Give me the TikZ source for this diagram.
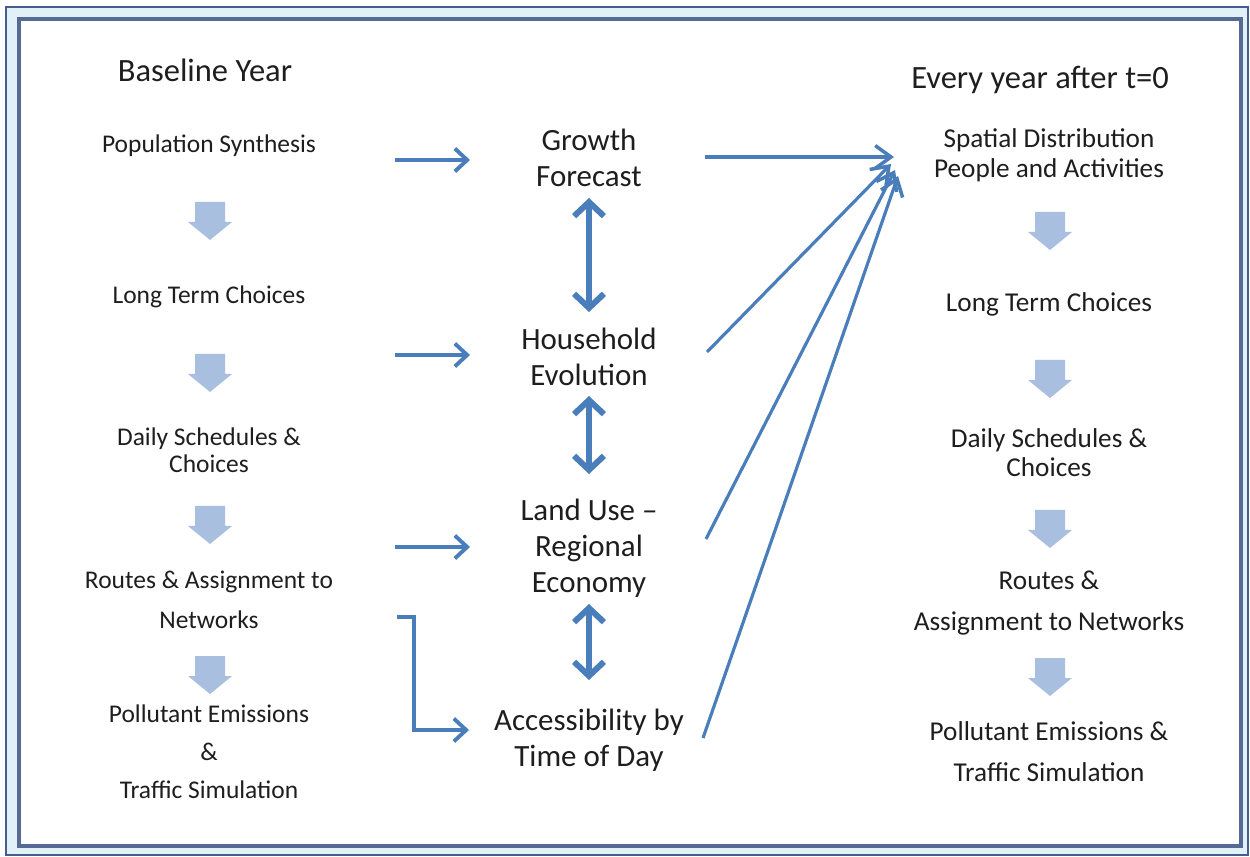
\documentclass[tikz,border=0pt]{standalone}
\usepackage{fontspec}
\setmainfont{Carlito}
\usetikzlibrary{arrows.meta}
\definecolor{lineblue}{HTML}{4A7EBB}
\definecolor{blockblue}{HTML}{A9BFE0}
\definecolor{frameout}{HTML}{465E8E}
\definecolor{framein}{HTML}{566A96}
\definecolor{band}{HTML}{E2F1F7}
\definecolor{txt}{HTML}{1E1E1E}
\tikzset{
  small/.style={align=center,text=txt,inner sep=0pt,font=\fontsize{14.5}{15.3}\selectfont},
  big/.style={align=center,text=txt,inner sep=0pt,font=\fontsize{17.6}{20.4}\selectfont},
  head/.style={align=center,text=txt,inner sep=0pt,font=\fontsize{18.5}{20.4}\selectfont},
  rsmall/.style={align=center,text=txt,inner sep=0pt},
  harrow/.style={draw=lineblue,line width=2.2pt,-{Straight Barb[length=7pt,width=13pt,line width=2.2pt]}},
  darrow/.style={draw=lineblue,line width=3.4pt,{Straight Barb[length=8pt,width=17pt,line width=3.4pt]}-{Straight Barb[length=8pt,width=17pt,line width=3.4pt]}},
  farrow/.style={draw=lineblue,line width=1.8pt,-{Straight Barb[length=9pt,width=13pt,line width=2pt]}},
  blockarrow/.pic={\fill[blockblue] (-15,0) -- (15,0) -- (15,20) -- (22,20) -- (0,38) -- (-22,20) -- (-15,20) -- cycle;}
}
\begin{document}
\begin{tikzpicture}[x=0.02cm,y=-0.02cm]
\useasboundingbox (0,0) rectangle (1250,857);
% frame
\fill[band] (5,6) rectangle (1249,856);
\draw[frameout,line width=1.5pt] (6,7) rectangle (1248,855);
\draw[framein,line width=1.9pt,fill=white] (19,19) rectangle (1241,846);

% left column
\node[head] (base) at (205,70) {Baseline Year};
\node[small] (ps) at (209,146) {Population Synthesis};
\node[small] (ltc) at (209,297) {Long Term Choices};
\node[small] (dsc) at (209,450) {Daily Schedules \&\\Choices};
\node[small,font=\fontsize{14.5}{22.7}\selectfont] (ran) at (209,600) {Routes \& Assignment to\\Networks};
\node[small,font=\fontsize{14.5}{21.6}\selectfont] (pe) at (209,752) {Pollutant Emissions\\\&\\Traffic Simulation};
\pic at (210,202) {blockarrow};
\pic at (210,354) {blockarrow};
\pic at (210,506) {blockarrow};
\pic at (210,656) {blockarrow};

% middle column
\node[big] (gf) at (589,158) {Growth\\Forecast};
\node[big] (he) at (589,357) {Household\\Evolution};
\node[big] (lu) at (589,548) {Land Use --\\Regional\\Economy};
\node[big] (acc) at (589,740) {Accessibility by\\Time of Day};

% right column
\node[head] (every) at (1040,80) {Every year after t=0};
\node[rsmall,font=\fontsize{15.5}{17}\selectfont] (sd) at (1049,155) {Spatial Distribution\\People and Activities};
\node[rsmall,font=\fontsize{15.5}{16.5}\selectfont] (rltc) at (1049,304) {Long Term Choices};
\node[rsmall,font=\fontsize{15.5}{16.5}\selectfont] (rdsc) at (1049,453) {Daily Schedules \&\\Choices};
\node[rsmall,font=\fontsize{15.5}{23.2}\selectfont] (rran) at (1049,603) {Routes \&\\Assignment to Networks};
\node[rsmall,font=\fontsize{15.5}{23.2}\selectfont] (rpe) at (1049,752) {Pollutant Emissions \&\\Traffic Simulation};
\pic at (1050,212) {blockarrow};
\pic at (1050,360) {blockarrow};
\pic at (1050,510) {blockarrow};
\pic at (1050,658) {blockarrow};

% connector end points
\coordinate (h1s) at (395,160); \coordinate (h1e) at (470,160);
\coordinate (h2s) at (395,355); \coordinate (h2e) at (470,355);
\coordinate (h3s) at (395,547); \coordinate (h3e) at (470,547);
\coordinate (e1) at (397,617); \coordinate (e2) at (414,617);
\coordinate (e3) at (414,730); \coordinate (e4) at (469,730);
\coordinate (d1a) at (589,198); \coordinate (d1b) at (589,312);
\coordinate (d2a) at (589,396); \coordinate (d2b) at (589,474);
\coordinate (d3a) at (589,604); \coordinate (d3b) at (589,680);
\coordinate (f1s) at (705,157); \coordinate (f1e) at (894,157);
\coordinate (f2s) at (707,352); \coordinate (f2e) at (891,164);
\coordinate (f3s) at (706,539); \coordinate (f3e) at (895,170);
\coordinate (f4s) at (703,738); \coordinate (f4e) at (898,176);

\draw[harrow] (h1s) -- (h1e);
\draw[harrow] (h2s) -- (h2e);
\draw[harrow] (h3s) -- (h3e);
\draw[harrow,line width=2pt] (e1) -- (e2) -- (e3) -- (e4);
\draw[darrow] (d1a) -- (d1b);
\draw[darrow] (d2a) -- (d2b);
\draw[darrow] (d3a) -- (d3b);
\draw[farrow,line width=2.2pt] (f1s) -- (f1e);
\draw[farrow] (f2s) -- (f2e);
\draw[farrow] (f3s) -- (f3e);
\draw[farrow] (f4s) -- (f4e);
\end{tikzpicture}
\end{document}
